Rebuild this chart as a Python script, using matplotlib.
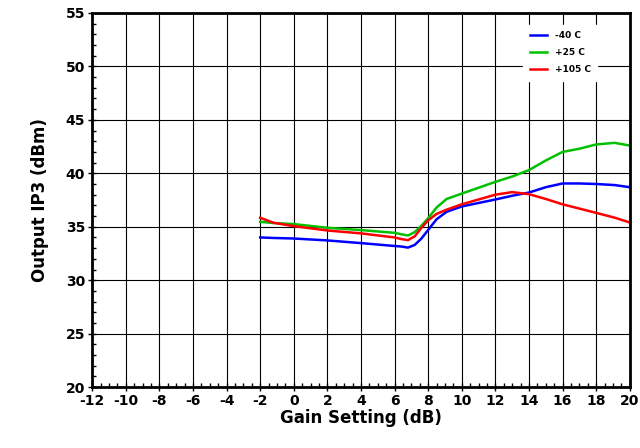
import numpy as np
import matplotlib
matplotlib.use("Agg")
from matplotlib import pyplot as plt
from matplotlib.ticker import MultipleLocator

plt.rcParams["axes.unicode_minus"] = False
plt.rcParams["font.weight"] = "bold"

gain = [-2, -1.2, 0, 2, 4, 6, 6.4, 6.8, 7.2, 7.6, 8, 8.5, 9.1, 10, 12, 13, 14, 15, 16, 17, 18, 19.1, 20]

oip3_m40 = [34.0, 33.95, 33.9, 33.72, 33.47, 33.2, 33.15, 33.05, 33.3, 33.9, 34.7, 35.7, 36.4, 36.9, 37.55, 37.9, 38.2, 38.7, 39.05, 39.05, 39.0, 38.9, 38.7]
oip3_p25 = [35.46, 35.35, 35.25, 34.9, 34.69, 34.43, 34.3, 34.18, 34.5, 35.1, 35.8, 36.8, 37.6, 38.1, 39.2, 39.7, 40.3, 41.2, 42.0, 42.3, 42.7, 42.85, 42.6]
oip3_p105 = [35.84, 35.37, 35.06, 34.65, 34.38, 34.0, 33.85, 33.75, 34.1, 34.9, 35.6, 36.2, 36.6, 37.1, 38.0, 38.24, 38.05, 37.6, 37.1, 36.7, 36.3, 35.85, 35.4]

series = [("-40 C", oip3_m40, "#0000ff"),
          ("+25 C", oip3_p25, "#00c000"),
          ("+105 C", oip3_p105, "#ff0000")]

fig = plt.figure(figsize=(6.4, 4.48), dpi=100)
ax = fig.add_axes([0.144, 0.136, 0.84, 0.835])

for name, vals, col in series:
    ax.plot(gain, vals, color=col, lw=1.8, label=name)

ax.set_xlim(-12, 20)
ax.set_ylim(20, 55)
ax.xaxis.set_major_locator(MultipleLocator(2))
ax.xaxis.set_minor_locator(MultipleLocator(0.5))
ax.yaxis.set_major_locator(MultipleLocator(5))
ax.yaxis.set_minor_locator(MultipleLocator(1))
ax.grid(True, which="major", color="black", lw=0.8)
ax.set_axisbelow(True)

for s in ax.spines.values():
    s.set_linewidth(2)
ax.tick_params(which="major", direction="inout", length=6, width=1, labelsize=10, pad=2)
ax.tick_params(which="minor", direction="in", length=3, width=1)
for lab in ax.get_xticklabels() + ax.get_yticklabels():
    lab.set_fontweight("bold")

ax.set_xlabel("Gain Setting (dB)", fontsize=12, fontweight="bold", labelpad=1)
ax.set_ylabel("Output IP3 (dBm)", fontsize=12, fontweight="bold", labelpad=12)

leg = ax.legend(loc="upper right", bbox_to_anchor=(0.948, 0.981), frameon=True,
                fancybox=False, edgecolor="white", framealpha=1,
                prop={"size": 6.5, "weight": "bold"}, handlelength=1.9,
                handletextpad=0.9, labelspacing=0.9, borderpad=0.7)

plt.savefig("out.png", dpi=100)
